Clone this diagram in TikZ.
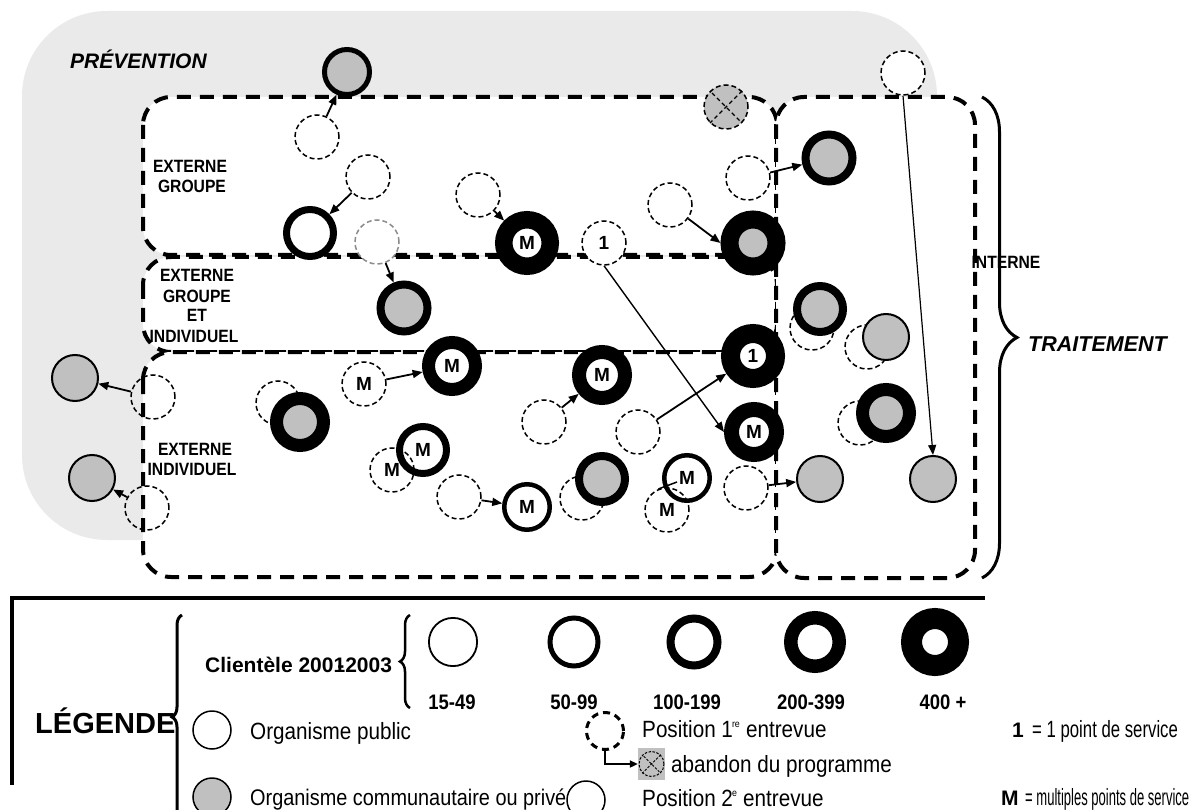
\documentclass[tikz,border=0pt]{standalone}
\usepackage{fontspec}
\setmainfont{Liberation Sans}
\newfontfamily\nf{Liberation Sans}[FakeStretch=0.88]
\usetikzlibrary{arrows.meta,decorations.pathreplacing}
\definecolor{bgc}{HTML}{EAEAEA}
\definecolor{cg}{HTML}{C0C0C0}
\definecolor{dg}{HTML}{8C8C8C}
\newcommand\fsz[1]{\fontsize{#1}{#1}\selectfont}
\begin{document}
\begin{tikzpicture}[x=1pt,y=-1pt,
  box/.style={draw, line width=4pt, dash pattern=on 14pt off 9pt, rounded corners=28pt, fill=white},
  pos1/.style={circle, draw, line width=1.5pt, dash pattern=on 5pt off 3pt, minimum size=44pt, inner sep=0pt, fill=white, font={\fsz{19}\bfseries}},
  ring/.style 2 args={circle, draw, inner sep=0pt, line width=#1pt, minimum size=#2pt, fill=white, font={\fsz{19}\bfseries}},
  gring/.style 2 args={ring={#1}{#2}, fill=cg},
  small/.style={circle, draw, line width=1.5pt, minimum size=38pt, inner sep=0pt, fill=white},
  conn/.style={line width=1.8pt, -{Triangle[length=10pt,width=8pt]}},
  zlab/.style={inner sep=0pt, anchor=base, font={\nf\fsz{17.8}\bfseries}},
  numlab/.style={inner sep=0pt, anchor=base, font={\nf\fsz{21}\bfseries}},
  txt/.style={inner sep=0pt, anchor=base west, font={\nf\fsz{23.5}}},
  bigbrace/.style={decorate, line width=3pt}
]
\useasboundingbox (0,0) rectangle (1194,810);
% grey PREVENTION area
\fill[bgc, rounded corners=85pt] (22,11) rectangle (937,540);
% zones
\draw[box] (143,97) rectangle (777,255);
\draw[box] (143,257) rectangle (777,352);
\draw[box] (143,352) rectangle (777,577);
\draw[box] (776,97) rectangle (975,578);
% brace TRAITEMENT
\draw[bigbrace, decoration={brace, amplitude=35pt}] (982,97) -- (982,578);

% first-interview positions
\node[pos1] (D1) at (317,137) {};
\node[pos1] (D2) at (368,177) {};
\node[pos1, draw=dg] (D3) at (377,242) {};
\node[pos1] (D4) at (478,195) {};
\node[pos1] (D5) at (604,243) {1};
\node[pos1] (D6) at (670,205) {};
\node[pos1, fill=cg] (D7) at (726,107) {};
\draw[line width=1.3pt, dash pattern=on 4pt off 3pt, shorten <=3pt, shorten >=3pt] (D7.45) -- (D7.225) (D7.135) -- (D7.315);
\node[pos1] (D8) at (748,178) {};
\node[pos1] (D9) at (903,73) {};
\node[pos1] (D10) at (812,328) {};
\node[pos1] (D11) at (867,347) {};
\node[pos1] (D12) at (860,423) {};
\node[pos1] (D13) at (364,384) {M};
\node[pos1] (D14) at (544,422) {};
\node[pos1] (D15) at (638,432) {};
\node[pos1] (D16) at (278,403) {};
\node[pos1] (D17) at (392,470) {M};
\node[pos1] (D18) at (459,497) {};
\node[pos1] (D19) at (582,498) {};
\node[pos1] (D20) at (667,510) {M};
\node[pos1] (D21) at (746,488) {};
\node[pos1, fill=none] (D22) at (153,397) {};
\node[pos1, fill=none] (D23) at (147,508) {};

% second-interview positions
\node[gring={5}{45}] (S1) at (347,72) {};
\node[ring={7}{47}] (S2) at (310,233) {};
\node[gring={8}{47}] (S3) at (404,308) {};
\node[ring={17.5}{46.5}] (S4) at (527,243) {M};
\node[gring={18}{47}] (S5) at (753,243) {};
\node[gring={8}{47}] (S6) at (829,158) {};
\node[gring={8}{46}] (S7) at (820,309) {};
\node[gring={2}{46}] (S8) at (886,337) {};
\node[gring={13}{47}] (S9) at (886,413) {};
\node[gring={2}{46}] (S10) at (820,479) {};
\node[gring={2}{46}] (S11) at (933,479) {};
\node[ring={19}{45}] (S12) at (753,356) {1};
\node[ring={15}{45}] (S13) at (754,432) {M};
\node[ring={13}{47}] (S14) at (452,366) {M};
\node[ring={14}{46}] (S15) at (602,375) {M};
\node[gring={13}{47}] (S16) at (300,422) {};
\node[ring={7}{47}, fill=none] (S17) at (423,450) {M};
\node[ring={4.5}{45.5}] (S18) at (527,507) {M};
\node[gring={8}{46}] (S19) at (602,479) {};
\node[ring={4.5}{45.5}, fill=none] (S20) at (687,478) {M};
\node[gring={2}{46}] (S21) at (75,378) {};
\node[gring={2}{46}] (S22) at (92,478) {};

% connectors
\draw[conn] (D1) -- (S1);
\draw[conn] (D2) -- (S2);
\draw[conn] (D3) -- (S3);
\draw[conn] (D4) -- (S4);
\draw[conn, line width=1.4pt] (D5.south) -- (S13.west);
\draw[conn] (D6) -- (S5.west);
\draw[conn] (D8) -- (S6);
\draw[conn, line width=1.2pt] (D9.south) -- (S11.north);
\draw[conn] (D13) -- (S14);
\draw[conn] (D14) -- (S15);
\draw[conn] (D15) -- (S12);
\draw[conn] (D21) -- (S10);
\draw[conn] (D22) -- (S21);
\draw[conn] (D23) -- (S22);
\draw[conn] (D18) -- (S18);
\coordinate (m20) at (677,482);
\draw[line width=1.5pt] (D20.112) -- (m20);

% zone labels
\node[inner sep=0pt, anchor=base west, font={\fsz{21}\bfseries\itshape}] (tprev) at (70,69) {PRÉVENTION};
\node[inner sep=0pt, anchor=base west, font={\fsz{21.5}\bfseries\itshape}] (ttrait) at (1028,352) {TRAITEMENT};
\node[zlab] (z1a) at (190,173) {EXTERNE};
\node[zlab] (z1b) at (192,193) {GROUPE};
\node[zlab] (z2a) at (197,282) {EXTERNE};
\node[zlab] (z2b) at (197,302) {GROUPE};
\node[zlab] (z2c) at (197,322) {ET};
\node[zlab] (z2d) at (194,342) {INDIVIDUEL};
\node[zlab] (z3a) at (195,455) {EXTERNE};
\node[zlab] (z3b) at (192,475) {INDIVIDUEL};
\node[zlab] (z4) at (1006,269) {INTERNE};

% legend frame
\draw[line width=4pt] (12,785) -- (12,598) -- (985,598);
\node[inner sep=0pt, anchor=base west, font={\fsz{29}\bfseries}] (tleg) at (35,733) {LÉGENDE};
\draw[bigbrace, decoration={brace, amplitude=10pt}] (182,819) -- (182,615);
\node[inner sep=0pt, anchor=base west, font={\fsz{21}\bfseries}] (tcli) at (205,672) {Clientèle 2001\llap{-\kern1pt}2003};
\draw[decorate, line width=2.5pt, decoration={brace, amplitude=10pt}] (410,708) -- (410,615);

\node[ring={1.8}{48.2}] (L1) at (453,642) {};
\node[ring={5}{48}] (L2) at (574,642) {};
\node[ring={8}{47}] (L3) at (694,642) {};
\node[ring={13.5}{48.5}] (L4) at (815,642) {};
\node[ring={21}{47}] (L5) at (935,642) {};
\node[numlab] (N1) at (452,709) {15-49};
\node[numlab] (N2) at (574,709) {50-99};
\node[numlab] (N3) at (687,709) {100-199};
\node[numlab] (N4) at (811,709) {200-399};
\node[numlab] (N5) at (943,709) {400 +};

\node[small] (LP) at (212,730) {};
\node[txt] (tLP) at (250,739) {Organisme public};
\node[small, fill=cg] (LC) at (212,797) {};
\node[txt, font={\nf\fsz{22.6}}] (tLC) at (250,805) {Organisme communautaire ou privé};

\node[circle, draw, line width=3pt, dash pattern=on 7pt off 5pt, minimum size=37pt, inner sep=0pt] (LD) at (605,731) {};
\node[txt] (tLD) at (642,737) {Position 1\kern-1pt\textsuperscript{\fsz{10}re} entrevue};
\node[fill=cg, minimum width=27pt, minimum height=32pt, inner sep=0pt] (LSq) at (651.5,764) {};
\node[circle, draw, line width=1pt, dash pattern=on 2.5pt off 1.5pt, minimum size=25pt, inner sep=0pt] (LX) at (651.5,764) {};
\draw[line width=1pt, dash pattern=on 2.5pt off 1.5pt, shorten <=2pt, shorten >=2pt] (LX.45) -- (LX.225) (LX.135) -- (LX.315);
\draw[line width=2pt, -{Triangle[length=8pt,width=7pt]}] (LD.south) |- (LSq.west);
\node[txt] (tLX) at (671,772) {abandon du programme};
\node[small] (L2p) at (586,800) {};
\node[txt] (tL2) at (642,806) {Position 2\kern-1pt\textsuperscript{\fsz{10}e} entrevue};

\node[inner sep=0pt, anchor=base west, font={\fsz{21}\bfseries}] (k1) at (1012,737) {1};
\node[txt] (tk1) at (1032,737) {\scalebox{0.81}[1]{= 1 point de service}};
\node[inner sep=0pt, anchor=base west, font={\fsz{21}\bfseries}] (kM) at (1001,805) {M};
\node[txt] (tkM) at (1025,805) {\scalebox{0.63}[1]{= multiples points de service}};
\end{tikzpicture}
\end{document}
